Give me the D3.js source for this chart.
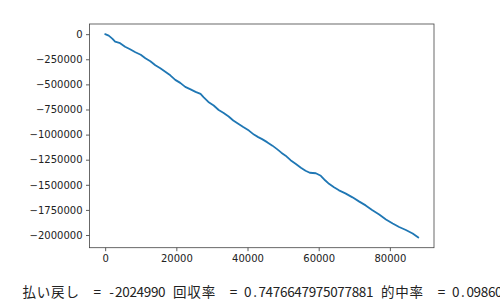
<!DOCTYPE html>
<html>
<head>
<meta charset="utf-8">
<script src="https://cdn.jsdelivr.net/npm/d3@7"></script>
<style>
  html, body { margin: 0; padding: 0; background: #fff; }
  svg { display: block; }
</style>
</head>
<body>
<div id="chart"></div>
<script>
// cumulative payout per race index
const raceIndex = [0, 1000, 2000, 2800, 4200, 5600, 7000, 8500, 10000, 11300,
    12700, 14100, 15500, 16900, 18300, 19700, 21100, 22500, 24000, 25400,
    26800, 27700, 29000, 30500, 31900, 33300, 34700, 36000, 37500, 38800,
    40400, 41800, 43000, 44100, 45500, 47000, 48300, 49500, 50700, 52100,
    53500, 55000, 56300, 57500, 59200, 60600, 61800, 62900, 64300, 65700,
    67500, 69500, 71300, 73200, 75000, 77000, 78900, 80800, 82600, 84500,
    86400, 88000];
const payout = [0, -15000, -45000, -75000, -90000, -125000, -150000, -180000, -205000, -240000,
    -270000, -310000, -340000, -375000, -410000, -455000, -485000, -525000, -550000, -575000,
    -595000, -630000, -675000, -710000, -755000, -785000, -820000, -860000, -895000, -925000,
    -960000, -1000000, -1025000, -1045000, -1075000, -1110000, -1145000, -1180000, -1210000, -1255000,
    -1290000, -1330000, -1360000, -1380000, -1385000, -1410000, -1455000, -1490000, -1525000, -1555000,
    -1585000, -1625000, -1665000, -1705000, -1750000, -1795000, -1845000, -1885000, -1920000, -1950000,
    -1985000, -2024990];

const xTicks = [0, 20000, 40000, 60000, 80000];
const yTicks = [0, -250000, -500000, -750000, -1000000, -1250000, -1500000, -1750000, -2000000];

const summaryLabels = ['払い戻し', '回収率', '的中率'];
const summaryValues = ['-2024990', '0.7476647975077881', '0.09860'];

const width = 500, height = 305;
const box = { left: 89.5, right: 434, top: 24, bottom: 247.7 };

const svg = d3.select('#chart').append('svg')
    .attr('width', width)
    .attr('height', height);

// matplotlib-like 5% autoscale margins
function padded(values) {
    const [lo, hi] = d3.extent(values);
    const m = (hi - lo) * 0.05;
    return [lo - m, hi + m];
}

const x = d3.scaleLinear().domain(padded(raceIndex)).range([box.left, box.right]);
const y = d3.scaleLinear().domain(padded(payout)).range([box.bottom, box.top]);

const fmt = d3.format('d');

const xAxis = svg.append('g')
    .attr('transform', `translate(0,${box.bottom})`)
    .call(d3.axisBottom(x).tickValues(xTicks).tickFormat(fmt).tickSizeInner(3.5).tickSizeOuter(0).tickPadding(3.5));
const yAxis = svg.append('g')
    .attr('transform', `translate(${box.left},0)`)
    .call(d3.axisLeft(y).tickValues(yTicks).tickFormat(d => fmt(d).replace('-', '\u2212')).tickSizeInner(3.5).tickSizeOuter(0).tickPadding(3.5));

[xAxis, yAxis].forEach(g => {
    g.select('.domain').remove();
    g.selectAll('.tick line').attr('stroke', '#333').attr('stroke-width', 0.8);
    g.selectAll('.tick text')
        .attr('fill', '#222')
        .style('font-family', '"DejaVu Sans", sans-serif')
        .style('font-size', '10px');
});

// line
svg.append('path')
    .datum(raceIndex.map((v, i) => [v, payout[i]]))
    .attr('fill', 'none')
    .attr('stroke', '#1f77b4')
    .attr('stroke-width', 1.8)
    .attr('stroke-linejoin', 'round')
    .attr('stroke-linecap', 'round')
    .attr('d', d3.line().x(d => x(d[0])).y(d => y(d[1])));

// frame
svg.append('rect')
    .attr('x', box.left)
    .attr('y', box.top)
    .attr('width', box.right - box.left)
    .attr('height', box.bottom - box.top)
    .attr('fill', 'none')
    .attr('stroke', '#444')
    .attr('stroke-width', 0.8);

// summary line printed below, laid out on a monospace grid (full-width = 2 cells)
const summary = summaryLabels.map((l, i) => `${l}  = ${summaryValues[i]}`).join(' ');
const cell = 7.17;
let cx = 22;
const txt = svg.append('text')
    .attr('y', 297)
    .attr('fill', '#222')
    .style('font-family', '"Noto Sans CJK JP", sans-serif')
    .style('font-size', '13.5px');
for (const ch of summary) {
    const w = ch.charCodeAt(0) > 255 ? 2 * cell : cell;
    if (ch !== ' ') {
        txt.append('tspan')
            .attr('x', cx + w / 2)
            .attr('text-anchor', 'middle')
            .text(ch);
    }
    cx += w;
}
</script>
</body>
</html>
